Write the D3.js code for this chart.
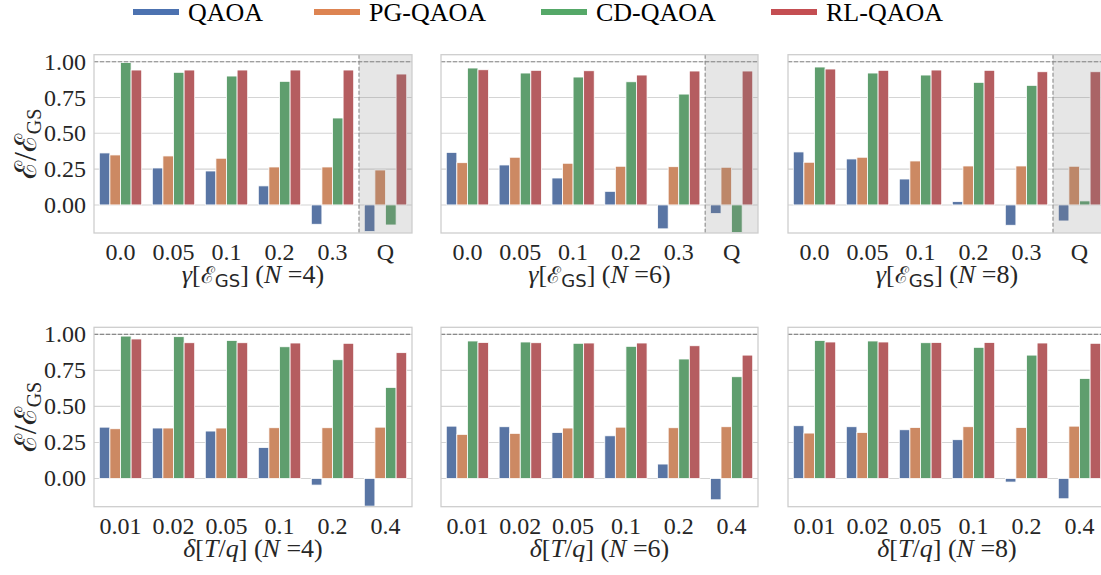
<!DOCTYPE html>
<html>
<head>
<meta charset="utf-8">
<script src="https://cdn.jsdelivr.net/npm/d3@7"></script>
<style>
  body { margin: 0; background: #fff; }
  svg { display: block; }
  text { fill: #262626; font-family: "Liberation Serif", serif; }
</style>
</head>
<body>
<div id="chart"></div>
<script>
// categories
var methods = ["QAOA", "PG-QAOA", "CD-QAOA", "RL-QAOA"];
var gammaCats = ["0.0", "0.05", "0.1", "0.2", "0.3", "Q"];
var deltaCats = ["0.01", "0.02", "0.05", "0.1", "0.2", "0.4"];
var yTicks = [0, 0.25, 0.5, 0.75, 1.0];
var sizes = [4, 6, 8];

// values, one array per method and panel
var gammaN4QAOA = [0.363, 0.258, 0.237, 0.133, -0.135, -0.186];
var gammaN4PG   = [0.349, 0.342, 0.326, 0.265, 0.265, 0.244];
var gammaN4CD   = [0.995, 0.926, 0.900, 0.863, 0.607, -0.140];
var gammaN4RL   = [0.942, 0.942, 0.942, 0.942, 0.942, 0.914];

var gammaN6QAOA = [0.367, 0.279, 0.188, 0.095, -0.167, -0.060];
var gammaN6PG   = [0.295, 0.333, 0.291, 0.270, 0.267, 0.263];
var gammaN6CD   = [0.956, 0.921, 0.893, 0.860, 0.774, -0.193];
var gammaN6RL   = [0.944, 0.940, 0.937, 0.907, 0.935, 0.935];

var gammaN8QAOA = [0.370, 0.321, 0.181, 0.023, -0.142, -0.112];
var gammaN8PG   = [0.298, 0.333, 0.307, 0.272, 0.272, 0.270];
var gammaN8CD   = [0.963, 0.921, 0.907, 0.856, 0.835, 0.028];
var gammaN8RL   = [0.949, 0.940, 0.942, 0.940, 0.930, 0.930];

var deltaN4QAOA = [0.356, 0.350, 0.329, 0.215, -0.046, -0.192];
var deltaN4PG   = [0.345, 0.350, 0.350, 0.352, 0.352, 0.356];
var deltaN4CD   = [0.988, 0.984, 0.958, 0.914, 0.824, 0.632];
var deltaN4RL   = [0.968, 0.942, 0.942, 0.940, 0.938, 0.873];

var deltaN6QAOA = [0.363, 0.359, 0.319, 0.296, 0.100, -0.148];
var deltaN6PG   = [0.306, 0.313, 0.350, 0.356, 0.352, 0.359];
var deltaN6CD   = [0.954, 0.947, 0.938, 0.917, 0.829, 0.706];
var deltaN6RL   = [0.944, 0.942, 0.940, 0.940, 0.921, 0.856];

var deltaN8QAOA = [0.366, 0.359, 0.338, 0.269, -0.025, -0.141];
var deltaN8PG   = [0.315, 0.319, 0.354, 0.359, 0.354, 0.363];
var deltaN8CD   = [0.958, 0.954, 0.942, 0.910, 0.856, 0.694];
var deltaN8RL   = [0.947, 0.947, 0.944, 0.944, 0.940, 0.938];

var legendColors = ["#4c72b0", "#dd8452", "#55a868", "#c44e52"];
var barColors = ["#5975a4", "#cc8963", "#5f9e6e", "#b55d60"];

var width = 1101, height = 575;
var svg = d3.select("#chart").append("svg")
  .attr("width", width)
  .attr("height", height);

var colX = [[94, 412], [441, 758], [788, 1106]];
var rows = [
  { top: 54.7, bottom: 233, cats: gammaCats, kind: "gamma", shade: true,
    series: [[gammaN4QAOA, gammaN4PG, gammaN4CD, gammaN4RL],
             [gammaN6QAOA, gammaN6PG, gammaN6CD, gammaN6RL],
             [gammaN8QAOA, gammaN8PG, gammaN8CD, gammaN8RL]] },
  { top: 327.3, bottom: 506.7, cats: deltaCats, kind: "delta", shade: false,
    series: [[deltaN4QAOA, deltaN4PG, deltaN4CD, deltaN4RL],
             [deltaN6QAOA, deltaN6PG, deltaN6CD, deltaN6RL],
             [deltaN8QAOA, deltaN8PG, deltaN8CD, deltaN8RL]] }
];

rows.forEach(function(row, ri) {
  var y = d3.scaleLinear().domain([-0.196, 1.049]).range([row.bottom, row.top]);

  row.series.forEach(function(ser, ci) {
    var x0 = d3.scaleBand().domain(row.cats).range(colX[ci]).paddingInner(0).paddingOuter(0);
    var x1 = d3.scaleBand().domain(methods)
      .range([x0.bandwidth() * 0.1, x0.bandwidth() * 0.9]).padding(0);
    var g = svg.append("g");

    // grid
    g.selectAll("line.grid").data(yTicks).enter().append("line")
      .attr("x1", colX[ci][0]).attr("x2", colX[ci][1])
      .attr("y1", d => y(d)).attr("y2", d => y(d))
      .attr("stroke", "#d4d4d4").attr("stroke-width", 1.1);

    // bars
    methods.forEach(function(m, mi) {
      g.selectAll(null).data(ser[mi]).enter().append("rect")
        .attr("x", (d, i) => x0(row.cats[i]) + x1(m))
        .attr("width", x1.bandwidth())
        .attr("y", d => y(Math.max(0, d)))
        .attr("height", d => Math.abs(y(d) - y(0)))
        .attr("fill", barColors[mi])
        .attr("stroke", "#fff").attr("stroke-width", 0.8);
    });

    // reference line at 1
    g.append("line")
      .attr("x1", colX[ci][0]).attr("x2", colX[ci][1])
      .attr("y1", y(1)).attr("y2", y(1))
      .attr("stroke", "#8a8a8a").attr("stroke-width", 1.1)
      .attr("stroke-dasharray", "4,2");

    if (row.shade) {
      var qx = x0("Q");
      g.append("rect")
        .attr("x", qx).attr("y", row.top)
        .attr("width", colX[ci][1] - qx).attr("height", row.bottom - row.top)
        .attr("fill", "#808080").attr("fill-opacity", 0.2);
      g.append("line")
        .attr("x1", qx).attr("x2", qx)
        .attr("y1", row.top).attr("y2", row.bottom)
        .attr("stroke", "#8a8a8a").attr("stroke-width", 1.1)
        .attr("stroke-dasharray", "4,2");
    }

    // frame
    g.append("rect")
      .attr("x", colX[ci][0]).attr("y", row.top)
      .attr("width", colX[ci][1] - colX[ci][0]).attr("height", row.bottom - row.top)
      .attr("fill", "none").attr("stroke", "#cccccc").attr("stroke-width", 1.25);

    // x tick labels
    g.selectAll("text.xt").data(row.cats).enter().append("text")
      .attr("x", d => x0(d) + x0.bandwidth() / 2)
      .attr("y", row.bottom + 27)
      .attr("text-anchor", "middle")
      .style("font-size", "24px")
      .text(d => d);

    // x axis label
    var lab = g.append("text")
      .attr("x", (colX[ci][0] + colX[ci][1]) / 2)
      .attr("y", row.bottom + 50)
      .attr("text-anchor", "middle")
      .style("font-size", "26px");
    if (row.kind === "gamma") {
      lab.append("tspan").style("font-style", "italic").text("γ");
      lab.append("tspan").text("[");
      lab.append("tspan").style("font-family", "DejaVu Serif").style("font-size", "23px").text("ℰ");
      lab.append("tspan").style("font-family", "DejaVu Sans").style("font-size", "18px").attr("dy", 4).text("GS");
      lab.append("tspan").attr("dy", -4).text("] (");
    } else {
      lab.append("tspan").style("font-style", "italic").text("δ");
      lab.append("tspan").text("[");
      lab.append("tspan").style("font-style", "italic").text("T");
      lab.append("tspan").text("/");
      lab.append("tspan").style("font-style", "italic").text("q");
      lab.append("tspan").text("] (");
    }
    lab.append("tspan").style("font-style", "italic").text("N");
    lab.append("tspan").text(" =" + sizes[ci] + ")");

    // y axis (first column only)
    if (ci === 0) {
      g.selectAll("text.yt").data(yTicks).enter().append("text")
        .attr("x", colX[0][0] - 8)
        .attr("y", d => y(d) + 8)
        .attr("text-anchor", "end")
        .style("font-size", "24px")
        .text(d => d3.format(".2f")(d));

      var cy = (row.top + row.bottom) / 2;
      var yl = g.append("text")
        .attr("transform", "translate(36," + cy + ") rotate(-90)")
        .attr("text-anchor", "middle")
        .style("font-size", "32px");
      yl.append("tspan").style("font-family", "DejaVu Serif").style("font-size", "30px").text("ℰ");
      yl.append("tspan").text("/");
      yl.append("tspan").style("font-family", "DejaVu Serif").style("font-size", "30px").text("ℰ");
      yl.append("tspan").style("font-size", "20px").attr("dy", 5).text("GS");
    }
  });
});

// legend
var legendX = [133, 314, 541, 771];
var leg = svg.append("g");
methods.forEach(function(m, i) {
  leg.append("line")
    .attr("x1", legendX[i]).attr("x2", legendX[i] + 46)
    .attr("y1", 12).attr("y2", 12)
    .attr("stroke", legendColors[i]).attr("stroke-width", 6);
  leg.append("text")
    .attr("x", legendX[i] + 55).attr("y", 21)
    .style("font-size", "26px")
    .style("fill", "#000")
    .text(m);
});
</script>
</body>
</html>
